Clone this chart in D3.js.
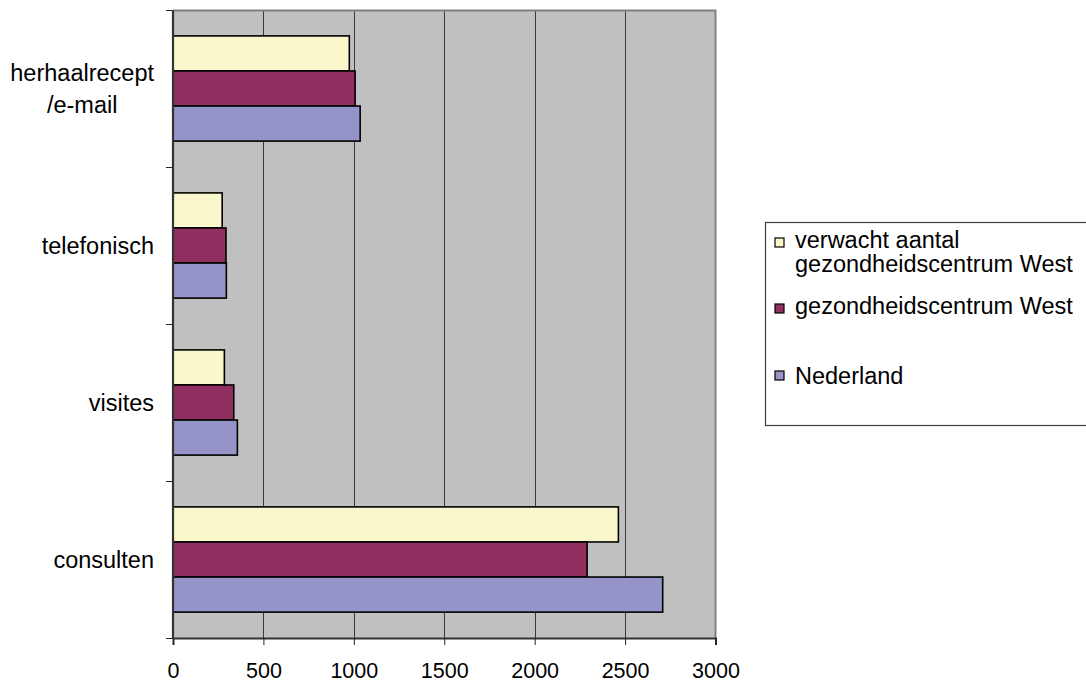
<!DOCTYPE html>
<html>
<head>
<meta charset="utf-8">
<script src="https://cdn.jsdelivr.net/npm/d3@7/dist/d3.min.js"></script>
<style>
  html, body { margin: 0; padding: 0; background: #fff; }
  svg { display: block; font-family: "Liberation Sans", Arial, sans-serif; }
</style>
</head>
<body>
<svg id="chart" width="1086" height="684"></svg>
<script>
// Categories, top to bottom
const categories = [["herhaalrecept", "/e-mail"], ["telefonisch"], ["visites"], ["consulten"]];
const seriesNames = [["verwacht aantal", "gezondheidscentrum West"], ["gezondheidscentrum West"], ["Nederland"]];
const seriesColors = ["#FAF7CC", "#913060", "#9494C8"];

// Values per series, in category order
const verwacht = [975, 272, 284, 2463];
const gcWest = [1007, 293, 336, 2290];
const nederland = [1035, 295, 356, 2708];
const series = [verwacht, gcWest, nederland];

const xTicks = [0, 500, 1000, 1500, 2000, 2500, 3000];

const labelSize = 23.5;
const tickSize = 21.5;

const svg = d3.select("#chart");
const plot = { left: 173, right: 715.5, top: 10, bottom: 638 };

const x = d3.scaleLinear().domain([0, 3000]).range([plot.left, plot.right]);
const y = d3.scaleBand()
  .domain(d3.range(categories.length))
  .range([plot.top, plot.bottom])
  .paddingInner(0.33)
  .paddingOuter(0.165);
const ySub = d3.scaleBand().domain(d3.range(series.length)).range([0, y.bandwidth()]);

// Plot background
svg.append("rect")
  .attr("x", plot.left).attr("y", plot.top)
  .attr("width", plot.right - plot.left).attr("height", plot.bottom - plot.top)
  .attr("fill", "#C0C0C0");

// Vertical gridlines
svg.append("g").selectAll("line")
  .data(xTicks.slice(1, -1))
  .join("line")
  .attr("x1", d => Math.round(x(d)) + 0.5).attr("x2", d => Math.round(x(d)) + 0.5)
  .attr("y1", plot.top).attr("y2", plot.bottom)
  .attr("stroke", "#3a3a3a").attr("stroke-width", 1);

// Plot frame (top & right)
svg.append("path")
  .attr("d", `M${plot.left},${plot.top + 0.5}H${plot.right}V${plot.bottom}`)
  .attr("fill", "none").attr("stroke", "#808080").attr("stroke-width", 2);

// Bars
series.forEach((vals, si) => {
  svg.append("g").selectAll("rect")
    .data(vals)
    .join("rect")
    .attr("x", x(0))
    .attr("y", (d, i) => y(i) + ySub(si))
    .attr("width", d => x(d) - x(0))
    .attr("height", ySub.bandwidth())
    .attr("fill", seriesColors[si])
    .attr("stroke", "#000")
    .attr("stroke-width", 1.6);
});

// Category axis (left)
const yTickPos = d3.range(categories.length + 1).map(i => plot.top + i * y.step());
svg.append("g").selectAll("line")
  .data(yTickPos)
  .join("line")
  .attr("x1", plot.left - 7).attr("x2", plot.left)
  .attr("y1", d => Math.round(d) + 0.5).attr("y2", d => Math.round(d) + 0.5)
  .attr("stroke", "#222").attr("stroke-width", 1);
svg.append("line")
  .attr("x1", plot.left).attr("x2", plot.left)
  .attr("y1", plot.top).attr("y2", plot.bottom)
  .attr("stroke", "#333").attr("stroke-width", 2.2);

const catG = svg.append("g").attr("font-size", labelSize).attr("fill", "#000");
categories.forEach((lines, i) => {
  const cy = y(i) + y.bandwidth() / 2;
  const lh = 32;
  const t = catG.append("text")
    .attr("text-anchor", "middle");
  lines.forEach((ln, k) => {
    t.append("tspan")
      .attr("y", cy + 8 + (k - (lines.length - 1) / 2) * lh)
      .text(ln);
  });
  // right-align the label block at x=154, lines centred within it
  const widths = [];
  t.selectAll("tspan").each(function () { widths.push(this.getComputedTextLength()); });
  const maxW = d3.max(widths);
  t.selectAll("tspan").attr("x", 154 - maxW / 2);
});

// Value axis (bottom)
const xAxis = d3.axisBottom(x).tickValues(xTicks).tickSize(7).tickPadding(12).tickFormat(d3.format("d"));
const gx = svg.append("g").attr("transform", `translate(0,${plot.bottom})`).call(xAxis);
gx.select(".domain").attr("stroke", "#333").attr("stroke-width", 2);
gx.selectAll(".tick line").attr("stroke", "#222");
gx.selectAll(".tick text")
  .attr("font-size", tickSize)
  .attr("font-family", "'Liberation Sans', Arial, sans-serif")
  .attr("fill", "#000")
  .attr("dy", "0.71em")
  .attr("y", 25);

// Legend
const lg = svg.append("g");
lg.append("rect")
  .attr("x", 765.5).attr("y", 222.5)
  .attr("width", 340).attr("height", 203)
  .attr("fill", "#fff").attr("stroke", "#404040").attr("stroke-width", 1.2);

const legendRows = [
  { sq: 238, base: [248, 272] },
  { sq: 304, base: [314] },
  { sq: 371, base: [384] }
];
seriesNames.forEach((lines, i) => {
  const row = legendRows[i];
  lg.append("rect")
    .attr("x", 775).attr("y", row.sq)
    .attr("width", 9).attr("height", 9)
    .attr("fill", seriesColors[i]).attr("stroke", "#000").attr("stroke-width", 1.2);
  lines.forEach((ln, k) => {
    lg.append("text")
      .attr("x", 795).attr("y", row.base[k])
      .attr("font-size", labelSize).attr("fill", "#000")
      .text(ln);
  });
});
</script>
</body>
</html>
